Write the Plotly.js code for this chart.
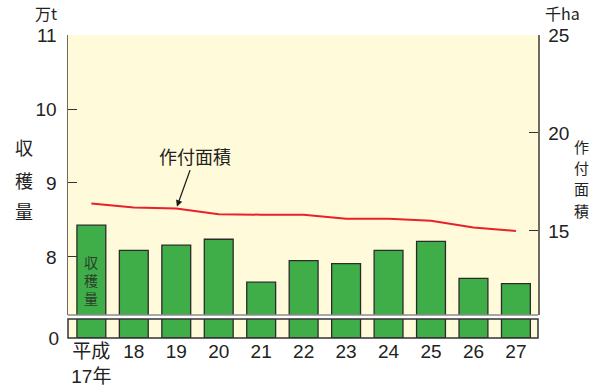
<!DOCTYPE html>
<html>
<head>
<meta charset="utf-8">
<script src="https://cdn.plot.ly/plotly-3.0.1.min.js"></script>
<style>html,body{margin:0;padding:0;background:#fff;}</style>
</head>
<body>
<div id="chart" style="width:601px;height:387px;"></div>
<script>
// Data
const years = ['平成<br>17年','18','19','20','21','22','23','24','25','26','27'];
const harvest = [8.43, 8.09, 8.16, 8.24, 7.66, 7.95, 7.91, 8.09, 8.21, 7.71, 7.64]; // 万t
const area = [16.4, 16.2, 16.14, 15.85, 15.83, 15.82, 15.62, 15.62, 15.52, 15.18, 15.0]; // 千ha
const leftTicks = [8, 9, 10, 11];
const rightTicks = [15, 20, 25];

const numFont = '"Liberation Sans Narrow","Liberation Sans",Arial,sans-serif';
const jpFont = '"Noto Sans CJK JP","Noto Sans",sans-serif';
const axisCol = '#6f6a5e';
const H = 303, W = 470;
const lowerTop = 19 / H;
const upperBot = 23 / H;
const y2Range = [10.71, 25];
const xRange = [-0.55, 10.52];

const barStyle = {color: '#3fae49', line: {color: '#2b2b2b', width: 1.3}};
const traces = [
  {type: 'bar', x: years, y: harvest, xaxis: 'x', yaxis: 'y', width: 0.68, marker: barStyle, hoverinfo: 'skip'},
  {type: 'bar', x: years, y: harvest, xaxis: 'x', yaxis: 'y3', width: 0.68, marker: barStyle, hoverinfo: 'skip'},
  {type: 'scatter', mode: 'lines', x: years, y: area, xaxis: 'x', yaxis: 'y2', line: {color: '#e8212b', width: 2}, hoverinfo: 'skip'}
];

// arrow target: point of area series at index 2, converted to paper coords through the axis ranges
const tgtIdx = 2;
const tgtX = (tgtIdx - xRange[0]) / (xRange[1] - xRange[0]);
const tgtY = upperBot + (area[tgtIdx] - y2Range[0]) / (y2Range[1] - y2Range[0]) * (1 - upperBot);

const tickFont = {family: numFont, size: 19, color: '#222'};
function jp(text, x, y, size, extra) {
  return Object.assign({text: text, xref: 'paper', yref: 'paper', x: x, y: y, xanchor: 'center', yanchor: 'middle',
    showarrow: false, font: {family: jpFont, size: size, color: '#222'}}, extra || {});
}
const px = p => (p - 68) / W;
const py = p => (338 - p) / H;

const layout = {
  width: 601, height: 387,
  margin: {l: 68, r: 63, t: 35, b: 49},
  paper_bgcolor: '#ffffff',
  plot_bgcolor: '#fffad9',
  showlegend: false,
  xaxis: {
    type: 'category', anchor: 'y3', range: xRange,
    showline: false, showgrid: false, zeroline: false, ticks: '',
    tickfont: {family: numFont + ',' + jpFont, size: 19, color: '#222'},
    fixedrange: true
  },
  yaxis: {
    domain: [upperBot, 1], range: [7.216, 11],
    tickvals: leftTicks, ticks: 'inside', ticklen: 9, tickcolor: '#333', tickwidth: 1,
    showline: true, linecolor: axisCol, linewidth: 1.5,
    showgrid: false, zeroline: false, ticklabelstandoff: 6,
    tickfont: tickFont
  },
  yaxis2: {
    overlaying: 'y', side: 'right', anchor: 'x', range: y2Range,
    tickvals: rightTicks, ticks: 'inside', ticklen: 9, tickcolor: '#333', tickwidth: 1,
    showline: true, linecolor: axisCol, linewidth: 1.5,
    showgrid: false, zeroline: false, ticklabelstandoff: 5,
    tickfont: tickFont
  },
  yaxis3: {
    domain: [0, lowerTop], range: [0, 1], anchor: 'x',
    tickvals: [0], ticks: '', showline: false, showgrid: false, zeroline: false,
    ticklabelstandoff: 8,
    tickfont: tickFont
  },
  yaxis4: {
    overlaying: 'y3', side: 'right', anchor: 'x', range: [0, 1],
    tickvals: [0], ticks: '', showline: false, showgrid: false, zeroline: false,
    ticklabelstandoff: 12,
    tickfont: tickFont
  },
  shapes: [
    {type: 'line', xref: 'paper', yref: 'paper', x0: 0, x1: 1, y0: upperBot, y1: upperBot,
     line: {color: '#8c8c8c', width: 1.5}, layer: 'above'},
    {type: 'rect', xref: 'paper', yref: 'paper', x0: 0, x1: 1, y0: 0, y1: lowerTop,
     line: {color: '#333', width: 1.5}, fillcolor: 'rgba(0,0,0,0)', layer: 'above'}
  ],
  annotations: [
    jp('万t', px(46), py(13), 16),
    jp('千ha', px(562), py(13), 16),
    jp('収', px(24), py(147), 18),
    jp('穫', px(24), py(180), 18),
    jp('量', px(24), py(211), 18),
    jp('作', px(581), py(146), 15),
    jp('付', px(581), py(167.5), 15),
    jp('面', px(581), py(189), 15),
    jp('積', px(581), py(210.5), 15),
    {text: '収<br>穫<br>量', xref: 'x', yref: 'y', x: years[0], y: 7.69, showarrow: false,
     font: {family: jpFont, size: 14, color: '#2a3f2a'}},
    {text: '作付面積', xref: 'paper', yref: 'paper', x: tgtX, y: tgtY,
     ax: 19, ay: -53, axref: 'pixel', ayref: 'pixel', showarrow: true,
     arrowhead: 2, arrowsize: 1, arrowwidth: 1.3, arrowcolor: '#1a1a1a', standoff: 2,
     font: {family: jpFont, size: 18, color: '#222'}}
  ]
};

Plotly.newPlot('chart', traces, layout, {staticPlot: true});
</script>
</body>
</html>
